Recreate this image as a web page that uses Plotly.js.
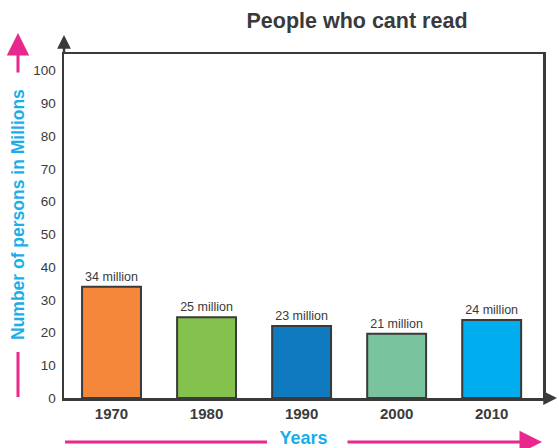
<!DOCTYPE html>
<html>
<head>
<meta charset="utf-8">
<script src="https://cdn.plot.ly/plotly-3.0.1.min.js"></script>
<style>html,body{margin:0;padding:0;background:#fff;}#chart{width:559px;height:448px;}</style>
</head>
<body>
<div id="chart"></div>
<script>
// Data
const years = ["1970", "1980", "1990", "2000", "2010"];
const persons = [34, 24.7, 22, 19.6, 23.8];
const barLabels = ["34 million", "25 million", "23 million", "21 million", "24 million"];
const barColors = ["#F4873A", "#84C24D", "#0F7AC0", "#79C39F", "#00ADEE"];
const yTicks = [0, 10, 20, 30, 40, 50, 60, 70, 80, 90, 100];

const dark = "#3a3a3a";
const pink = "#E8288C";
const cyan = "#1AAEE8";
const font = "Liberation Sans, Arial, sans-serif";

const trace = {
  type: "bar",
  x: years,
  y: persons,
  text: barLabels,
  textposition: "outside",
  constraintext: "none",
  cliponaxis: false,
  textfont: {family: font, size: 12.5, color: dark},
  width: 0.62,
  marker: {color: barColors, line: {color: dark, width: 2}},
  hoverinfo: "x+y"
};

// pixel -> paper helpers (plot area 64..543 x 54..398)
const L = 64, R = 543, T = 54, B = 398;
const px = v => (v - L) / (R - L);
const py = v => (B - v) / (B - T);

const layout = {
  width: 559, height: 448,
  margin: {l: L, r: 559 - R, t: T, b: 448 - B},
  paper_bgcolor: "#fff", plot_bgcolor: "#fff",
  showlegend: false,
  title: {
    text: "<b>People who cant read</b>",
    font: {family: font, size: 21.5, color: dark},
    xref: "paper", x: px(357), xanchor: "center",
    yref: "container", y: 1 - 20 / 448, yanchor: "middle"
  },
  xaxis: {
    type: "category",
    range: [-0.5, 4.54],
    showline: true, linecolor: dark, linewidth: 2.5, mirror: true,
    showgrid: false, zeroline: false, ticks: "",
    tickfont: {family: font, size: 15, color: dark, weight: "bold"},
    ticklabelstandoff: 0,
    title: {text: "<b>Years</b>", font: {family: font, size: 18, color: cyan}, standoff: 14}
  },
  yaxis: {
    range: [0, 105.1],
    tickvals: yTicks,
    showline: true, linecolor: dark, linewidth: 2.5, mirror: true,
    showgrid: false, zeroline: false, ticks: "",
    tickfont: {family: font, size: 13.5, color: dark},
    ticklabelstandoff: 3
  },
  shapes: [
    // pink line under y title
    {type: "line", xref: "paper", yref: "paper", x0: px(18), x1: px(18), y0: py(397), y1: py(352), line: {color: pink, width: 3}},
    // pink line left of "Years"
    {type: "line", xref: "paper", yref: "paper", x0: px(65), x1: px(267), y0: py(442), y1: py(442), line: {color: pink, width: 3}}
  ],
  annotations: [
    {text: "<b>Number of persons in Millions</b>", xref: "paper", yref: "paper", x: px(18), y: py(215),
     textangle: -90, showarrow: false, font: {family: font, size: 17.5, color: cyan}, xanchor: "center", yanchor: "middle"},
    // pink arrow above y title
    {text: "", xref: "paper", yref: "paper", x: px(18), y: py(33), ax: 0, ay: 41, showarrow: true,
     arrowhead: 2, arrowsize: 1.5, arrowwidth: 3, arrowcolor: pink},
    // pink arrow right of "Years"
    {text: "", xref: "paper", yref: "paper", x: px(542), y: py(442), ax: -196, ay: 0, showarrow: true,
     arrowhead: 2, arrowsize: 1.5, arrowwidth: 3, arrowcolor: pink},
    // dark axis arrows
    {text: "", xref: "paper", yref: "paper", x: 0, y: py(35), ax: 0, ay: 20, showarrow: true,
     arrowhead: 2, arrowsize: 1.1, arrowwidth: 2.5, arrowcolor: dark},
    {text: "", xref: "paper", yref: "paper", x: px(557), y: 0, ax: -15, ay: 0, showarrow: true,
     arrowhead: 2, arrowsize: 1.1, arrowwidth: 2.5, arrowcolor: dark}
  ]
};

Plotly.newPlot("chart", [trace], layout, {displayModeBar: false, staticPlot: true});
</script>
</body>
</html>
